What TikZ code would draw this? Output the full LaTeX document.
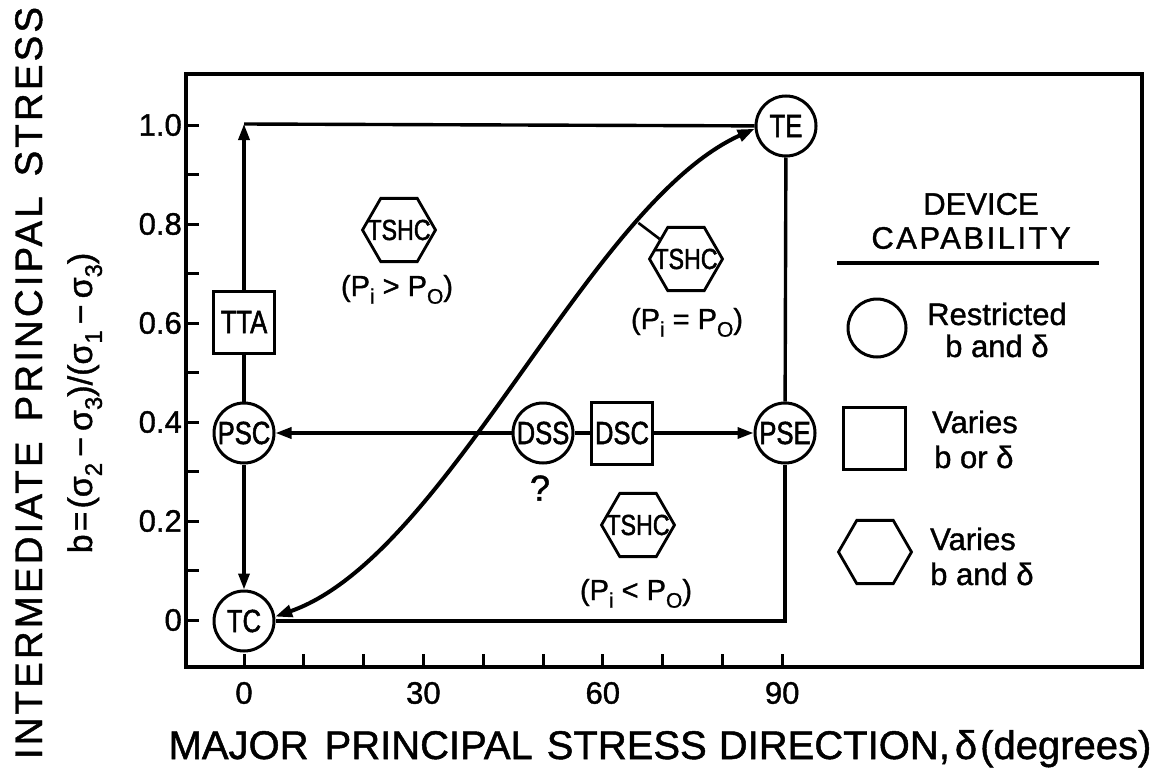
\documentclass[tikz,border=0pt]{standalone}
\usepackage{fontspec}
\setmainfont{Liberation Sans}[FakeBold=1.2]
\newfontfamily\nodefont{Liberation Sans}[FakeStretch=0.8,FakeBold=1.6]
\usetikzlibrary{shapes.geometric,arrows.meta}
\newcommand{\fsz}[1]{\fontsize{#1}{#1}\selectfont}
\newcommand{\sbx}[1]{\raisebox{-0.5ex}{\fsz{21}#1}}
\newcommand{\sbb}[1]{\raisebox{-0.55ex}{\fsz{24}#1}}
\tikzset{
  ln/.style={line width=3.4pt},
  arr/.style={-{Triangle[length=16pt,width=11pt]}},
  crc/.style={draw, circle, line width=3pt, minimum size=60pt, inner sep=0pt, font=\nodefont\fsz{32}},
  sqr/.style={draw, rectangle, line width=3pt, minimum width=61pt, minimum height=62pt, inner sep=0pt, font=\nodefont\fsz{32}},
  hex/.style={draw, regular polygon, regular polygon sides=6, line width=2.8pt, minimum size=73pt, inner sep=0pt, font=\nodefont\fsz{29}},
  tick/.style={inner sep=0pt, font=\fsz{31}},
  plbl/.style={inner sep=0pt, anchor=base, font=\fsz{29}},
  lgt/.style={inner sep=0pt, font=\fsz{31}},
}
\begin{document}
\begin{tikzpicture}[x=1pt,y=-1pt]
\useasboundingbox (0,0) rectangle (1164,771);
% frame and ticks
\draw[line width=3.6pt] (186,74) rectangle (1142,667);
\foreach \k in {0,...,10} \draw[line width=3pt] (186,{620-49.5*\k}) -- (199,{620-49.5*\k});
\foreach \k in {0,...,9} \draw[line width=3pt] ({244+59.8*\k},667) -- ({244+59.8*\k},654);
\foreach \v/\k in {0/0,0.2/2,0.4/4,0.6/6,0.8/8,1.0/10}
  \node[tick, anchor=east] (yl\k) at (182,{620-49.5*\k}) {\v};
\foreach \v in {0,30,60,90}
  \node[tick] (xl\v) at ({244+5.98*\v},693) {\v};
% axis titles
\node[inner sep=0pt, anchor=base, font=\fsz{40}] (xt) at (660,759)
  {MAJOR\hspace{16pt}PRINCIPAL\hspace{14pt}STRESS\hspace{12pt}DIRECTION,\hspace{5pt}δ\hspace{3pt}(degrees)};
\node[inner sep=0pt, anchor=base, rotate=90, font=\fsz{38.5}\addfontfeature{LetterSpace=8}] (yt) at (42,383)
  {INTERMEDIATE\hspace{20pt}PRINCIPAL\hspace{20pt}STRESS};
\node[inner sep=0pt, anchor=base, rotate=90, font=\fsz{34}] (yb) at (92,403)
  {b\hspace{3pt}=\hspace{3pt}(σ\sbb{2}\hspace{6pt}−\hspace{6pt}σ\sbb{3})/(σ\sbb{1}\hspace{6pt}−\hspace{6pt}σ\sbb{3})};
% nodes
\node[crc] (TC) at (244,621) {TC};
\node[crc] (PSC) at (244,433) {PSC};
\node[sqr] (TTA) at (244,322) {TTA};
\coordinate (TL) at (244,124);
\node[crc] (TE) at (786,126) {TE};
\node[crc] (PSE) at (785,433) {PSE};
\coordinate (BR) at (785,621);
\node[crc] (DSS) at (543,433) {DSS};
\node[sqr] (DSC) at (622,433) {DSC};
\node[inner sep=0pt, font=\fsz{36}] (Q) at (540,488) {?};
\node[hex] (H1) at (399,230) {\makebox[0pt]{TSHC}};
\node[plbl] (L1) at (397,296) {(P\sbx{i} > P\sbx{O})};
\node[hex] (H2) at (686,259) {\makebox[0pt]{TSHC}};
\node[plbl] (L2) at (687,329) {(P\sbx{i} = P\sbx{O})};
\node[hex] (H3) at (638,525) {\makebox[0pt]{TSHC}};
\node[plbl] (L3) at (636,600) {(P\sbx{i} < P\sbx{O})};
% connectors
\draw[ln,arr] (DSS) -- (PSC);
\draw[ln] (DSS) -- (DSC);
\draw[ln,arr] (DSC) -- (PSE);
\draw[ln,arr] (PSC) -- (TC);
\draw[ln] (PSC) -- (TTA);
\draw[ln,arr] (TTA) -- (TL);
\draw[ln] (TL) -- (TE);
\draw[ln] (TE) -- (PSE);
\draw[ln] (PSE) -- (BR) -- (TC);
\draw[line width=4pt, {Triangle[length=17pt,width=12pt]}-{Triangle[length=17pt,width=12pt]}]
  (TC.8) .. controls (448,556) and (588,204) .. (TE.185) coordinate[pos=0.76] (cp);
\draw[line width=2.6pt] (cp) -- (H2);
% legend
\node[lgt] (dev) at (981,204) {DEVICE};
\node[lgt, font=\fsz{31}\addfontfeature{LetterSpace=8}] (cap) at (971,238) {CAPABILITY};
\coordinate (r1) at (837,263);
\coordinate (r2) at (1099,263);
\draw[line width=3.6pt] (r1) -- (r2);
\node[draw, circle, line width=3pt, minimum size=58pt, inner sep=0pt] (lc) at (877,328) {};
\node[draw, rectangle, line width=3pt, minimum size=62pt, inner sep=0pt] (ls) at (874,438) {};
\node[draw, regular polygon, regular polygon sides=6, line width=2.8pt, minimum size=73pt, inner sep=0pt] (lh) at (875,552) {};
\node[lgt, anchor=base west] (t1a) at (927,325) {Restricted};
\node[lgt, anchor=base west] (t1b) at (945,357) {b and δ};
\node[lgt, anchor=base west] (t2a) at (932,433) {Varies};
\node[lgt, anchor=base west] (t2b) at (934,468) {b or δ};
\node[lgt, anchor=base west] (t3a) at (930,550) {Varies};
\node[lgt, anchor=base west] (t3b) at (930,585) {b and δ};
\end{tikzpicture}
\end{document}
